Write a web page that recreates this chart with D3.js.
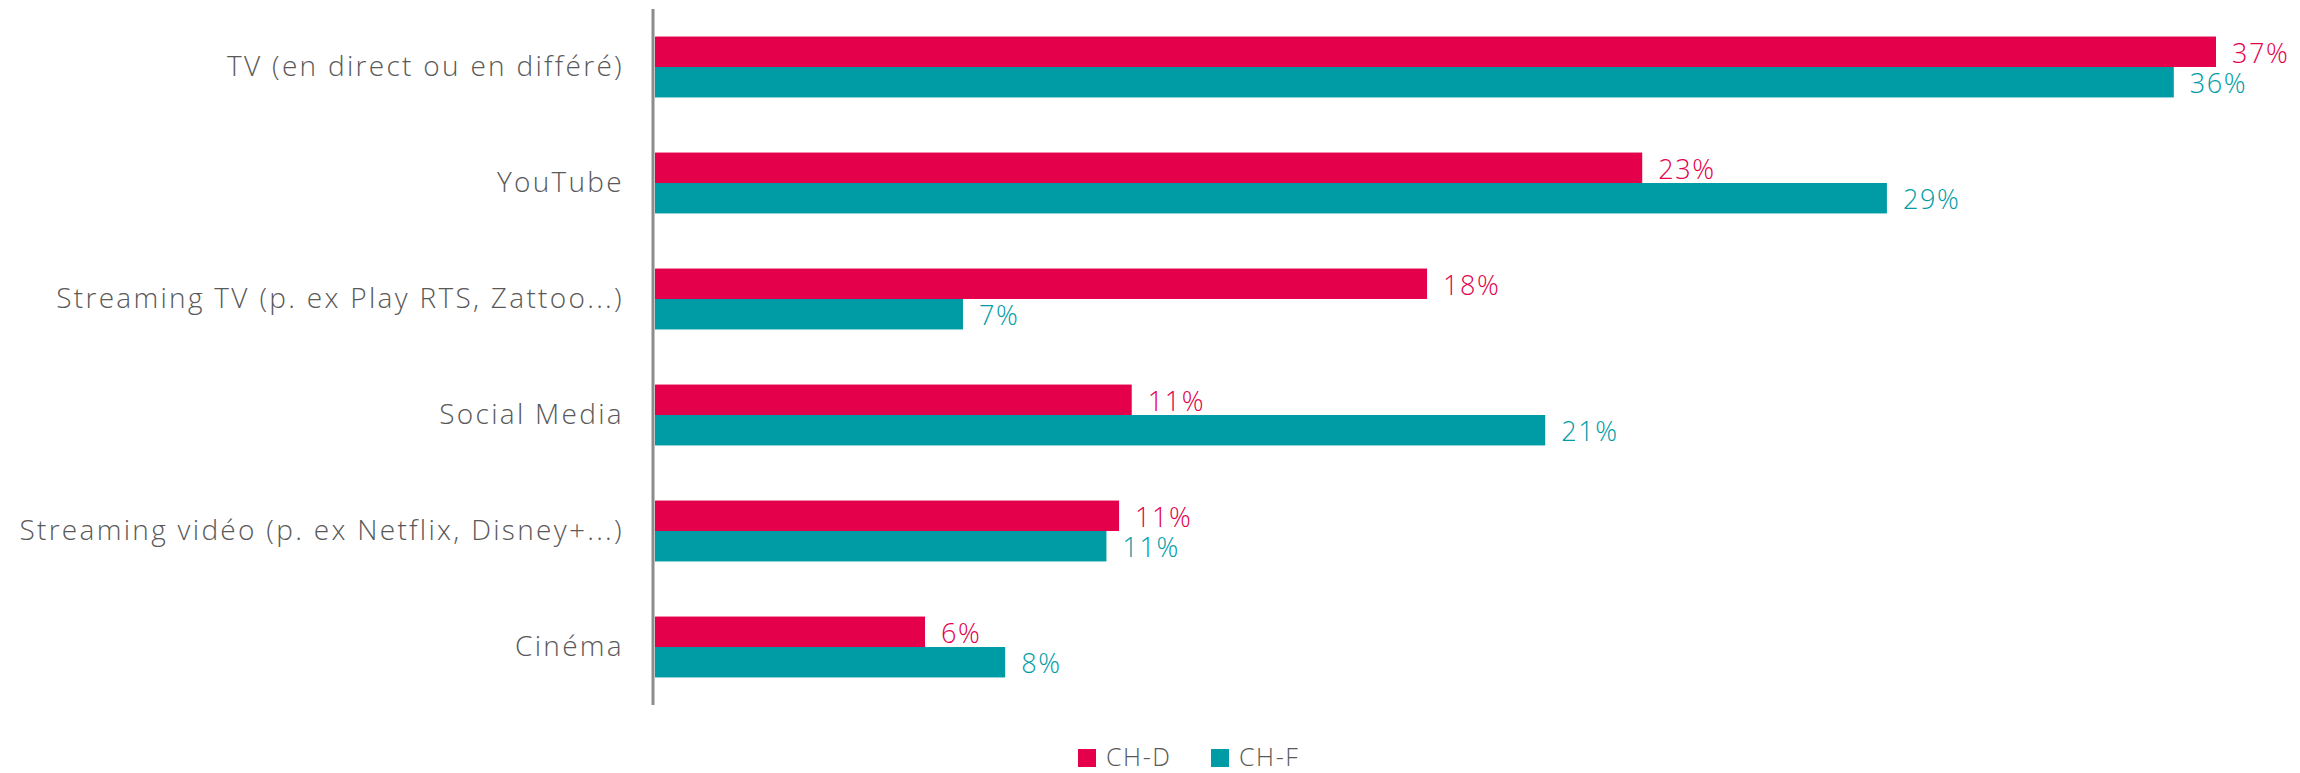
<!DOCTYPE html>
<html>
<head>
<meta charset="utf-8">
<script src="https://cdn.jsdelivr.net/npm/d3@7"></script>
<style>
  body { margin: 0; background: #fff; }
  svg text { font-family: "Open Sans", Lato, sans-serif; font-weight: 300; }
</style>
</head>
<body>
<svg id="chart"></svg>
<script>
// categories and values
const categories = [
  'TV (en direct ou en différé)',
  'YouTube',
  'Streaming TV (p. ex Play RTS, Zattoo...)',
  'Social Media',
  'Streaming vidéo (p. ex Netflix, Disney+...)',
  'Cinéma'
];
const seriesNames = ['CH-D', 'CH-F'];
const chD = [37.0, 23.4, 18.3, 11.3, 11.0, 6.4];
const chF = [36.0, 29.2, 7.3, 21.1, 10.7, 8.3];
const colors = ['#e4004b', '#009ca6'];

const width = 2300;
const height = 773;
const margin = { top: 9, right: 70, bottom: 68, left: 655 };

const svg = d3.select('#chart')
  .attr('width', width)
  .attr('height', height);

const rows = categories.map((c, i) => ({ cat: c, values: [chD[i], chF[i]] }));

// scales
const y = d3.scaleBand()
  .domain(categories)
  .range([margin.top, height - margin.bottom])
  .paddingInner(0.475)
  .paddingOuter(0.2375);

const ySub = d3.scaleBand()
  .domain(seriesNames)
  .range([0, y.bandwidth()]);

const x = d3.scaleLinear()
  .domain([0, 37])
  .range([margin.left, 2216]);

// bars
const groups = svg.selectAll('.group')
  .data(rows)
  .enter()
  .append('g')
  .attr('class', 'group')
  .attr('transform', d => `translate(0, ${y(d.cat)})`);

groups.selectAll('rect')
  .data(d => d.values.map((v, j) => ({ v, s: seriesNames[j], j })))
  .enter()
  .append('rect')
  .attr('x', x(0))
  .attr('y', d => ySub(d.s))
  .attr('width', d => x(d.v) - x(0))
  .attr('height', ySub.bandwidth())
  .attr('fill', d => colors[d.j]);

groups.selectAll('.val')
  .data(d => d.values.map((v, j) => ({ v, s: seriesNames[j], j })))
  .enter()
  .append('text')
  .attr('class', 'val')
  .attr('x', d => x(d.v) + 16)
  .attr('y', d => ySub(d.s) + ySub.bandwidth() - 4)
  .attr('fill', d => colors[d.j])
  .style('font-size', '27px')
  .style('letter-spacing', '1.6px')
  .text(d => Math.round(d.v) + '%');

// category axis
const yAxis = d3.axisLeft(y).tickSize(0).tickPadding(29);
const ax = svg.append('g')
  .attr('transform', `translate(${margin.left - 2}, 0)`)
  .call(yAxis);
ax.select('.domain').remove();
ax.selectAll('text')
  .attr('fill', '#595959')
  .style('font-size', '28px')
  .style('letter-spacing', '2.3px');

svg.append('line')
  .attr('x1', margin.left - 2)
  .attr('x2', margin.left - 2)
  .attr('y1', margin.top)
  .attr('y2', height - margin.bottom)
  .attr('stroke', '#8c8c8c')
  .attr('stroke-width', 3);

// legend
const legendX = [1078, 1211];
const legend = svg.selectAll('.legend')
  .data(seriesNames)
  .enter()
  .append('g')
  .attr('class', 'legend')
  .attr('transform', (d, i) => `translate(${legendX[i]}, 749)`);

legend.append('rect')
  .attr('width', 18)
  .attr('height', 18)
  .attr('fill', (d, i) => colors[i]);

legend.append('text')
  .attr('x', 28)
  .attr('y', 17)
  .attr('fill', '#595959')
  .style('font-size', '25px')
  .style('letter-spacing', '1.6px')
  .text(d => d);
</script>
</body>
</html>
